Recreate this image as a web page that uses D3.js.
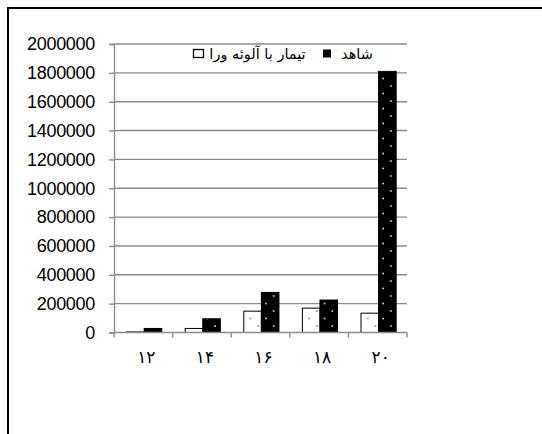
<!DOCTYPE html>
<html>
<head>
<meta charset="utf-8">
<script src="https://cdn.jsdelivr.net/npm/d3@7"></script>
<style>
  html, body { margin: 0; padding: 0; background: #fff; }
  svg { display: block; }
</style>
</head>
<body>
<script>
// Categories (x axis) and the two series of the grouped bar chart
const categories = ["۱۲", "۱۴", "۱۶", "۱۸", "۲۰"];
const seriesNames = ["تیمار با آلوئه ورا", "شاهد"];
const aloeValues = [4000, 28000, 148000, 169000, 134000];
const controlValues = [28000, 95000, 278000, 225000, 1810000];
const yTickValues = [0, 200000, 400000, 600000, 800000, 1000000, 1200000, 1400000, 1600000, 1800000, 2000000];

const W = 542, H = 434;
const plot = { left: 114, right: 407, top: 44, bottom: 332.5 };

const svg = d3.select("body").append("svg")
  .attr("width", W).attr("height", H);

// Dotted fills for the bars
const defs = svg.append("defs");
function dotPattern(id, bg, dot) {
  const p = defs.append("pattern")
    .attr("id", id).attr("patternUnits", "userSpaceOnUse")
    .attr("width", 15.4).attr("height", 15);
  p.append("rect").attr("width", 15.4).attr("height", 15).attr("fill", bg);
  p.append("circle").attr("cx", 4).attr("cy", 3.5).attr("r", 0.9).attr("fill", dot);
  p.append("circle").attr("cx", 11.7).attr("cy", 11).attr("r", 0.9).attr("fill", dot);
}
dotPattern("dotsWhite", "#ffffff", "#8a8a8a");
dotPattern("dotsBlack", "#000000", "#d8d8d8");

// Outer frame (top and left edges)
svg.append("line").attr("x1", 7).attr("x2", W).attr("y1", 8).attr("y2", 8)
  .attr("stroke", "#000").attr("stroke-width", 2);
svg.append("line").attr("x1", 8).attr("x2", 8).attr("y1", 7).attr("y2", H)
  .attr("stroke", "#000").attr("stroke-width", 2);

const x = d3.scaleBand().domain(categories).range([plot.left, plot.right]).padding(0);
const xSub = d3.scaleBand().domain(seriesNames)
  .range([x.bandwidth() * 0.215, x.bandwidth() * 0.815]).padding(0);
const y = d3.scaleLinear().domain([0, 2000000]).range([plot.bottom, plot.top]);

const gridColor = "#8c8c8c";

// Horizontal gridlines
svg.append("g").selectAll("line").data(yTickValues.slice(1)).join("line")
  .attr("x1", plot.left).attr("x2", plot.right)
  .attr("y1", d => y(d)).attr("y2", d => y(d))
  .attr("stroke", gridColor).attr("stroke-width", 1.4);

// Y axis
const yAxis = svg.append("g").attr("transform", `translate(${plot.left},0)`)
  .call(d3.axisLeft(y).tickValues(yTickValues).tickFormat(d3.format("d"))
    .tickSize(5).tickPadding(14));
yAxis.select(".domain").attr("stroke", gridColor).attr("stroke-width", 1.4);
yAxis.selectAll(".tick line").attr("stroke", gridColor).attr("stroke-width", 1.4);
yAxis.selectAll(".tick text")
  .attr("font-family", "'Liberation Sans', Arial, sans-serif")
  .attr("font-size", 18).attr("fill", "#000")
  .attr("letter-spacing", "-0.3px");

// Bars
const rows = categories.map((c, i) => ({ cat: c, vals: [aloeValues[i], controlValues[i]] }));
const groups = svg.append("g").selectAll("g").data(rows).join("g")
  .attr("transform", d => `translate(${x(d.cat)},0)`);
groups.selectAll("rect").data(d => d.vals.map((v, j) => ({ s: seriesNames[j], v, j }))).join("rect")
  .attr("x", d => xSub(d.s))
  .attr("width", xSub.bandwidth())
  .attr("y", d => y(d.v))
  .attr("height", d => y(0) - y(d.v))
  .attr("fill", d => d.j === 0 ? "url(#dotsWhite)" : "url(#dotsBlack)")
  .attr("stroke", "#000").attr("stroke-width", 1);

// X axis with ticks at the category boundaries
const xAxisG = svg.append("g");
xAxisG.append("line").attr("x1", plot.left).attr("x2", plot.right)
  .attr("y1", plot.bottom).attr("y2", plot.bottom)
  .attr("stroke", gridColor).attr("stroke-width", 1.4);
const boundaries = categories.map(c => x(c)).concat([x(categories[categories.length - 1]) + x.bandwidth()]);
xAxisG.selectAll("line.tk").data(boundaries).join("line").attr("class", "tk")
  .attr("x1", d => d).attr("x2", d => d)
  .attr("y1", plot.bottom).attr("y2", plot.bottom + 5)
  .attr("stroke", gridColor).attr("stroke-width", 1.4);
xAxisG.selectAll("text").data(categories).join("text")
  .attr("x", d => x(d) + x.bandwidth() / 2 + 3)
  .attr("y", 363)
  .attr("text-anchor", "middle")
  .attr("font-family", "'DejaVu Sans', sans-serif")
  .attr("font-size", 17).attr("fill", "#000")
  .text(d => d);

// Legend
const leg = svg.append("g");
leg.append("rect").attr("x", 193.5).attr("y", 49.5).attr("width", 10).attr("height", 8)
  .attr("fill", "#fff").attr("stroke", "#000").attr("stroke-width", 1.3);
leg.append("text").attr("x", 257.5).attr("y", 59).attr("text-anchor", "middle")
  .attr("font-family", "'DejaVu Sans', sans-serif").attr("font-size", 14.5).attr("fill", "#000")
  .text(seriesNames[0]);
leg.append("rect").attr("x", 323).attr("y", 49.5).attr("width", 8).attr("height", 8)
  .attr("fill", "#000");
leg.append("text").attr("x", 357).attr("y", 59).attr("text-anchor", "middle")
  .attr("font-family", "'DejaVu Sans', sans-serif").attr("font-size", 14.5).attr("fill", "#000")
  .text(seriesNames[1]);
</script>
</body>
</html>
